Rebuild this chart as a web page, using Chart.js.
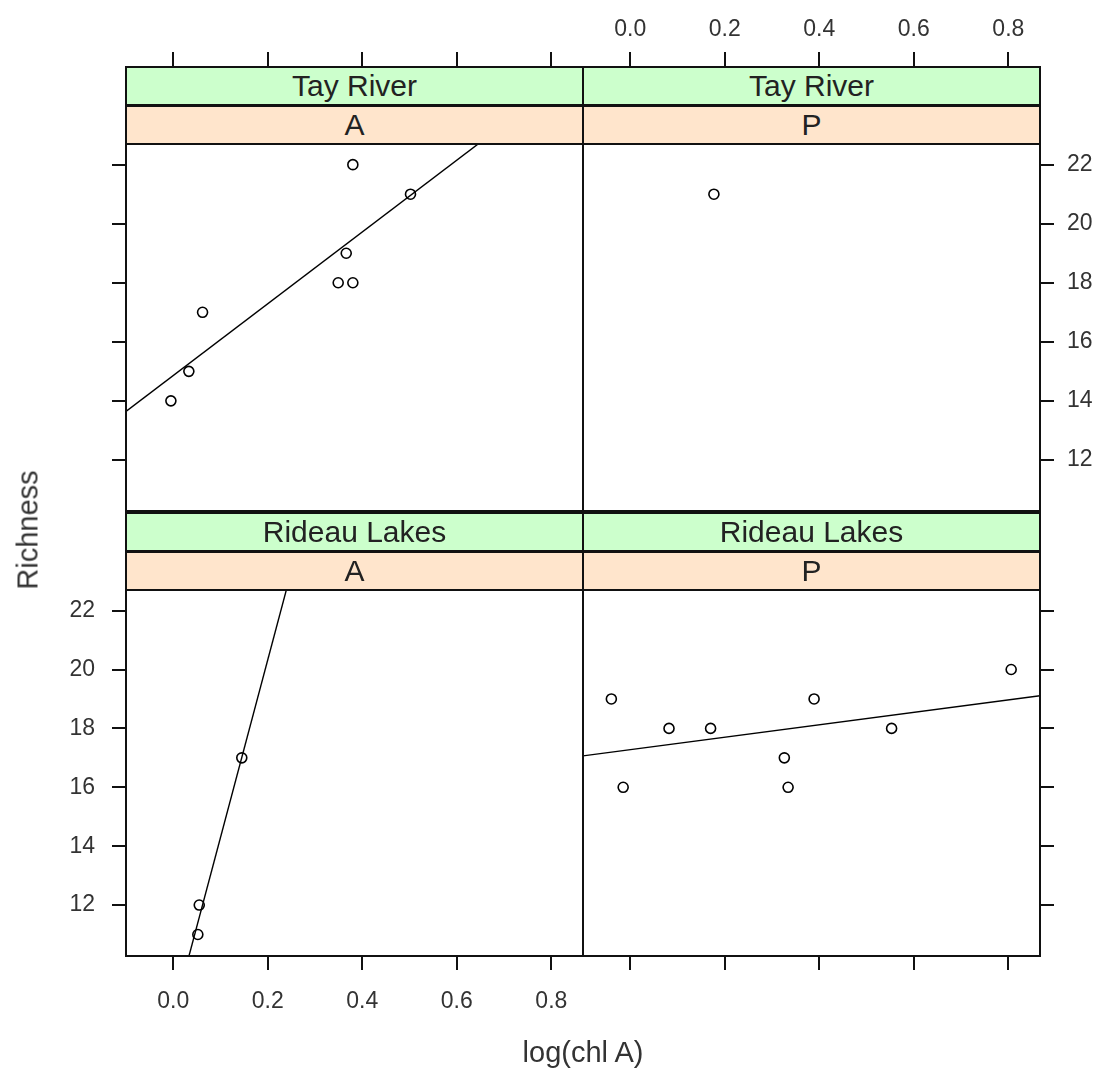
<!DOCTYPE html>
<html>
<head>
<meta charset="utf-8">
<title>Richness vs log(chl A)</title>
<script src="https://cdn.jsdelivr.net/npm/chart.js@4.4.1/dist/chart.umd.min.js"></script>
<style>
body { margin: 0; background: #fff; font-family: "Liberation Sans", Arial, sans-serif; }
#wrap { position: relative; width: 1102px; height: 1076px; overflow: hidden; }
canvas { position: absolute; }
.strip { position: absolute; box-sizing: border-box; border: 2px solid #111; text-align: center; color: #222; font-size: 30px; line-height: 36px; }
.strip span { position: relative; top: 0px; }
.green { background: #ccffcc; }
.peach { background: #ffe5cc; }
.frame { position: absolute; box-sizing: border-box; border: 2px solid #111; pointer-events: none; }
.lab { position: absolute; color: #333; font-size: 29px; white-space: nowrap; transform: translate(-50%, -50%); }
</style>
</head>
<body>
<div id="wrap">
  <canvas id="tl" width="583" height="511" style="left:0;top:0"></canvas>
  <canvas id="tr" width="519" height="511" style="left:583px;top:0"></canvas>
  <canvas id="bl" width="583" height="565" style="left:0;top:511px"></canvas>
  <canvas id="br" width="519" height="565" style="left:583px;top:511px"></canvas>
  <div class="lab" style="left:28px;top:530px;transform:translate(-50%,-50%) rotate(-90deg)">Richness</div>
  <div class="lab" style="left:583px;top:1052px">log(chl A)</div>
</div>
<script>
// 値
let sites = ["Tay River", "Rideau Lakes"];
let types = ["A", "P"];
let xTicks = [0.0, 0.2, 0.4, 0.6, 0.8];
let yTicks = [12, 14, 16, 18, 20, 22];

let tayA_x = [0.380, 0.502, 0.366, 0.349, 0.380, 0.062, 0.033, -0.005];
let tayA_y = [22, 21, 19, 18, 18, 17, 15, 14];
let tayP_x = [0.177];
let tayP_y = [21];
let rideauA_x = [0.052, 0.055, 0.145];
let rideauA_y = [11, 12, 17];
let rideauP_x = [-0.040, -0.015, 0.082, 0.170, 0.326, 0.334, 0.389, 0.553, 0.806];
let rideauP_y = [19, 16, 18, 18, 17, 16, 19, 18, 20];

// 軸の範囲
let xMin = -0.1, xMax = 0.867;
let yMin = 10.27, yMax = 22.7;

Chart.defaults.font.family = '"Liberation Sans", Arial, sans-serif';
Chart.defaults.font.size = 23;
Chart.defaults.color = "#333";

function points(xs, ys) {
    return xs.map((x, i) => ({x: x, y: ys[i]}));
}

// 最小二乗の回帰直線 (パネルの端から端まで)
function lmLine(xs, ys) {
    let n = xs.length;
    if (n < 2) return [];
    let mx = xs.reduce((a, b) => a + b, 0) / n;
    let my = ys.reduce((a, b) => a + b, 0) / n;
    let sxy = 0, sxx = 0;
    for (let i = 0; i < n; i++) {
        sxy += (xs[i] - mx) * (ys[i] - my);
        sxx += (xs[i] - mx) * (xs[i] - mx);
    }
    let b = sxy / sxx;
    let a = my - b * mx;
    return [{x: xMin, y: a + b * xMin}, {x: xMax, y: a + b * xMax}];
}

function xScale(pos, showLabels, size) {
    return {
        type: "linear", position: pos, min: xMin, max: xMax,
        afterBuildTicks: s => { s.ticks = xTicks.map(v => ({value: v})); },
        afterFit: s => { s.height = size; s.paddingLeft = 0; s.paddingRight = 0; s.paddingTop = 0; s.paddingBottom = 0; },
        grid: { drawOnChartArea: false, tickLength: pos === "top" ? 92 : 14, color: "#111", lineWidth: 2 },
        border: { display: false },
        ticks: { display: showLabels, font: { size: 23 }, padding: pos === "top" ? 9 : 18, maxRotation: 0, callback: v => v.toFixed(1) }
    };
}

function yScale(pos, showLabels, size) {
    return {
        type: "linear", position: pos, min: yMin, max: yMax,
        afterBuildTicks: s => { s.ticks = yTicks.map(v => ({value: v})); },
        afterFit: s => { s.width = size; s.paddingLeft = 0; s.paddingRight = 0; s.paddingTop = 0; s.paddingBottom = 0; },
        grid: { drawOnChartArea: false, tickLength: 14, color: "#111", lineWidth: 2 },
        border: { display: false },
        ticks: { display: showLabels, font: { size: 23 }, padding: pos === "left" ? 17 : 13 }
    };
}

function panel(id, xs, ys, sx, sy, padTop) {
    let cfg = {
        type: "scatter",
        data: {
            datasets: [{
                data: points(xs, ys),
                pointStyle: "circle",
                pointRadius: 5,
                pointBorderWidth: 1.6,
                pointBorderColor: "#000",
                pointBackgroundColor: "rgba(0,0,0,0)"
            }, {
                data: lmLine(xs, ys),
                showLine: true,
                pointRadius: 0,
                borderColor: "#000",
                borderWidth: 1.4,
                clip: 0
            }]
        },
        options: {
            responsive: false,
            animation: false,
            layout: { autoPadding: false, padding: { top: padTop } },
            plugins: { legend: { display: false }, tooltip: { enabled: false } },
            scales: { x: sx, y: sy }
        }
    };
    return new Chart(document.getElementById(id).getContext("2d"), cfg);
}

// ストリップと枠
let cols = [126, 583];
let rowStrip = [66, 512];
let rowPanel = [[144, 511], [590, 956]];
function addBox(cls, left, top, w, h, text) {
    let d = document.createElement("div");
    d.className = cls;
    d.style.left = left + "px";
    d.style.top = top + "px";
    d.style.width = w + "px";
    d.style.height = h + "px";
    if (text !== undefined) {
        let s = document.createElement("span");
        s.textContent = text;
        d.appendChild(s);
    }
    document.getElementById("wrap").appendChild(d);
}

window.addEventListener("load", function() {
    panel("tl", tayA_x, tayA_y, xScale("top", false, 144), yScale("left", false, 126), 0);
    panel("tr", tayP_x, tayP_y, xScale("top", true, 144), yScale("right", true, 62), 0);
    panel("bl", rideauA_x, rideauA_y, xScale("bottom", true, 120), yScale("left", true, 126), 79);
    panel("br", rideauP_x, rideauP_y, xScale("bottom", false, 120), yScale("right", false, 62), 79);

    for (let r = 0; r < sites.length; r++) {
        for (let c = 0; c < types.length; c++) {
            let left = cols[c] - 1;
            addBox("strip green", left, rowStrip[r], 459, 40, sites[r]);
            addBox("strip peach", left, rowStrip[r] + 39, 459, 40, types[c]);
            addBox("frame", left, rowPanel[r][0] - 1, 459, rowPanel[r][1] - rowPanel[r][0] + 2);
        }
    }
}, false);
</script>
</body>
</html>
